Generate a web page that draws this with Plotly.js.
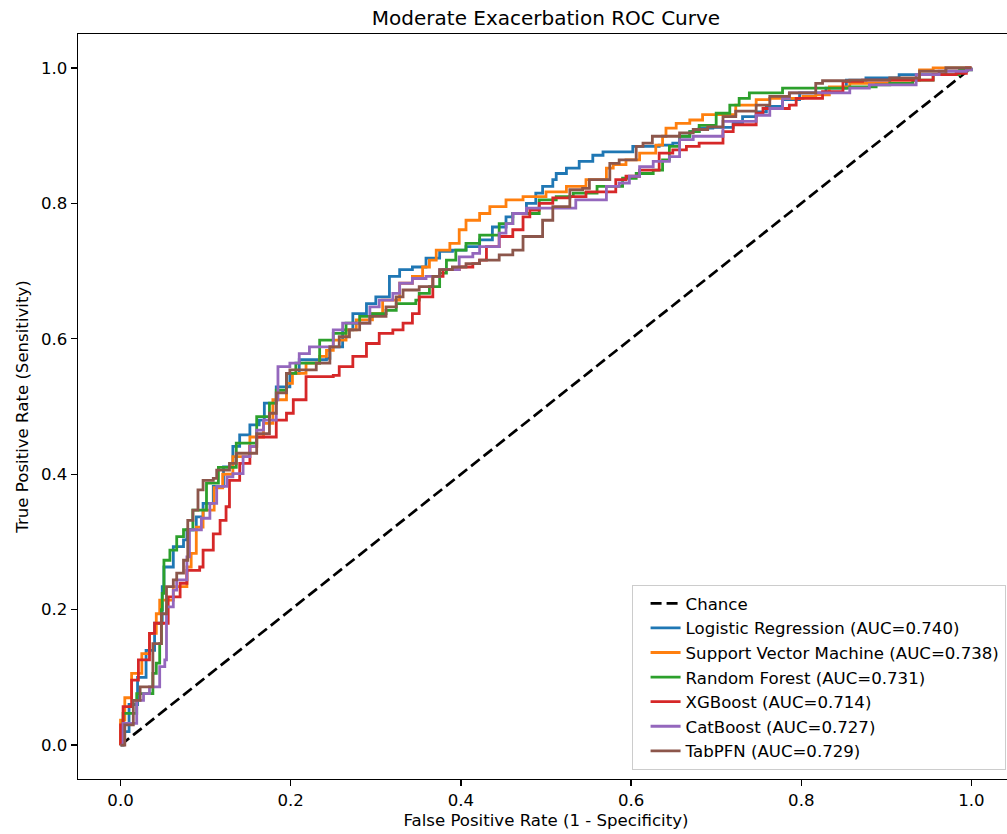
<!DOCTYPE html>
<html>
<head>
<meta charset="utf-8">
<script src="https://cdn.plot.ly/plotly-3.0.1.min.js"></script>
<style>
html, body { margin: 0; padding: 0; overflow: hidden; background: #fff; }
#chart { width: 1020px; height: 834px; }
</style>
</head>
<body>
<div id="chart"></div>
<script>
// Chance line
const chanceX = [0, 1];
const chanceY = [0, 1];

// Logistic Regression (AUC=0.740)
const lrFpr = [0,0,0.01,0.02,0.03,0.04,0.049,0.051,0.062,0.074,0.078,0.089,0.097,0.109,0.121,0.132,0.140,0.152,0.163,0.169,0.183,0.199,0.210,0.228,0.242,0.246,0.261,0.273,0.289,0.300,0.316,0.328,0.343,0.359,0.375,0.390,0.406,0.422,0.437,0.453,0.461,0.477,0.488,0.496,0.508,0.512,0.524,0.539,0.555,0.567,0.590,0.602,0.618,0.633,0.649,0.657,0.669,0.680,0.696,0.720,0.731,0.747,0.759,0.778,0.798,0.829,0.853,0.876,0.915,0.970,1];
const lrTpr = [0,0.02,0.06,0.10,0.14,0.18,0.234,0.263,0.293,0.303,0.318,0.337,0.357,0.382,0.411,0.441,0.458,0.473,0.48,0.505,0.529,0.549,0.569,0.569,0.571,0.588,0.613,0.637,0.652,0.662,0.692,0.702,0.706,0.719,0.729,0.731,0.736,0.746,0.765,0.780,0.785,0.800,0.815,0.825,0.835,0.844,0.852,0.862,0.871,0.876,0.876,0.884,0.884,0.886,0.889,0.899,0.906,0.911,0.912,0.918,0.928,0.935,0.943,0.953,0.963,0.970,0.982,0.985,0.990,1.0,1.0];

// Support Vector Machine (AUC=0.738)
const svmFpr = [0,0,0.005,0.013,0.025,0.034,0.042,0.046,0.062,0.078,0.083,0.089,0.097,0.110,0.120,0.132,0.152,0.168,0.179,0.195,0.202,0.218,0.234,0.242,0.250,0.265,0.277,0.296,0.308,0.328,0.343,0.355,0.363,0.371,0.387,0.398,0.406,0.422,0.434,0.453,0.473,0.500,0.524,0.547,0.571,0.579,0.594,0.610,0.629,0.637,0.641,0.653,0.669,0.684,0.723,0.747,0.763,0.802,0.817,0.833,0.857,0.904,0.939,0.955,1];
const svmTpr = [0,0.037,0.07,0.106,0.135,0.165,0.194,0.214,0.234,0.263,0.283,0.322,0.347,0.380,0.400,0.426,0.455,0.475,0.510,0.534,0.549,0.564,0.574,0.583,0.598,0.613,0.628,0.637,0.657,0.682,0.692,0.706,0.716,0.731,0.741,0.761,0.775,0.785,0.795,0.805,0.810,0.817,0.825,0.835,0.852,0.857,0.864,0.874,0.886,0.899,0.911,0.918,0.923,0.931,0.945,0.953,0.955,0.958,0.960,0.972,0.977,0.982,0.997,1.0,1.0];

// Random Forest (AUC=0.731)
const rfFpr = [0,0.003,0.019,0.038,0.042,0.046,0.048,0.049,0.051,0.058,0.066,0.074,0.085,0.101,0.115,0.136,0.160,0.175,0.183,0.195,0.206,0.234,0.250,0.265,0.281,0.296,0.312,0.324,0.347,0.351,0.363,0.375,0.383,0.394,0.406,0.422,0.445,0.461,0.492,0.512,0.532,0.560,0.590,0.606,0.626,0.637,0.645,0.657,0.669,0.680,0.700,0.716,0.727,0.739,0.778,0.857,0.888,0.904,0.931,0.955,0.986,1];
const rfTpr = [0,0.047,0.076,0.106,0.121,0.150,0.200,0.224,0.273,0.288,0.308,0.318,0.347,0.387,0.410,0.446,0.485,0.505,0.524,0.549,0.564,0.598,0.608,0.623,0.633,0.637,0.642,0.652,0.657,0.667,0.677,0.697,0.716,0.731,0.741,0.753,0.770,0.785,0.805,0.810,0.815,0.825,0.837,0.844,0.849,0.864,0.884,0.899,0.906,0.915,0.933,0.945,0.955,0.963,0.970,0.972,0.975,0.977,0.982,0.990,0.997,1.0];

// XGBoost (AUC=0.714)
const xgbFpr = [0,0,0.003,0.013,0.021,0.034,0.040,0.056,0.070,0.078,0.093,0.097,0.109,0.117,0.124,0.128,0.140,0.152,0.160,0.183,0.195,0.203,0.218,0.250,0.257,0.273,0.289,0.304,0.320,0.332,0.343,0.351,0.367,0.379,0.398,0.414,0.422,0.430,0.445,0.461,0.473,0.481,0.492,0.508,0.528,0.547,0.582,0.594,0.610,0.633,0.649,0.665,0.680,0.708,0.720,0.747,0.755,0.786,0.794,0.825,0.849,0.872,0.955,0.982,0.994,1];
const xgbTpr = [0,0.03,0.057,0.096,0.126,0.165,0.180,0.219,0.239,0.258,0.263,0.288,0.312,0.332,0.352,0.391,0.416,0.441,0.455,0.480,0.490,0.510,0.544,0.546,0.559,0.574,0.593,0.608,0.613,0.623,0.637,0.662,0.692,0.702,0.706,0.711,0.716,0.736,0.751,0.761,0.780,0.790,0.800,0.808,0.810,0.817,0.835,0.840,0.849,0.874,0.879,0.884,0.889,0.906,0.916,0.933,0.940,0.945,0.955,0.965,0.980,0.982,0.990,0.992,1.0,1.0];

// CatBoost (AUC=0.727)
const cbFpr = [0,0.003,0.019,0.027,0.034,0.046,0.052,0.054,0.062,0.066,0.078,0.081,0.095,0.105,0.113,0.125,0.132,0.144,0.152,0.160,0.168,0.183,0.185,0.199,0.210,0.222,0.250,0.261,0.293,0.304,0.320,0.328,0.343,0.359,0.375,0.398,0.414,0.422,0.445,0.453,0.461,0.477,0.528,0.535,0.571,0.586,0.598,0.610,0.626,0.645,0.657,0.673,0.708,0.747,0.763,0.778,0.786,0.825,0.857,0.880,0.935,0.962,0.994,1];
const cbTpr = [0,0.032,0.066,0.076,0.086,0.116,0.126,0.204,0.229,0.244,0.278,0.318,0.335,0.357,0.382,0.396,0.401,0.426,0.441,0.465,0.480,0.510,0.559,0.564,0.578,0.588,0.613,0.623,0.647,0.657,0.667,0.682,0.689,0.692,0.702,0.721,0.726,0.736,0.756,0.770,0.785,0.793,0.793,0.805,0.825,0.830,0.840,0.854,0.862,0.869,0.894,0.899,0.921,0.930,0.940,0.955,0.963,0.963,0.970,0.975,0.990,0.995,0.997,1.0];

// TabPFN (AUC=0.729)
const tabFpr = [0,0.005,0.015,0.023,0.038,0.048,0.054,0.062,0.066,0.074,0.079,0.079,0.085,0.091,0.097,0.109,0.113,0.128,0.136,0.160,0.175,0.183,0.195,0.199,0.218,0.230,0.246,0.257,0.269,0.281,0.293,0.312,0.324,0.332,0.351,0.367,0.375,0.390,0.406,0.422,0.445,0.461,0.473,0.496,0.508,0.528,0.543,0.551,0.575,0.586,0.606,0.614,0.625,0.657,0.673,0.690,0.708,0.723,0.747,0.763,0.786,0.817,0.825,0.857,0.904,0.939,0.970,1];
const tabTpr = [0,0.030,0.066,0.086,0.150,0.194,0.234,0.244,0.254,0.273,0.313,0.332,0.347,0.377,0.391,0.394,0.406,0.416,0.431,0.460,0.490,0.520,0.549,0.554,0.554,0.564,0.588,0.603,0.613,0.623,0.633,0.647,0.662,0.672,0.677,0.692,0.702,0.706,0.711,0.716,0.724,0.731,0.751,0.775,0.795,0.820,0.822,0.835,0.859,0.864,0.884,0.889,0.899,0.904,0.909,0.913,0.928,0.936,0.945,0.958,0.963,0.977,0.981,0.982,0.985,0.995,1.0,1.0];

const tickVals = [0, 0.2, 0.4, 0.6, 0.8, 1.0];
const tickText = ["0.0", "0.2", "0.4", "0.6", "0.8", "1.0"];

const models = [
  { name: "Logistic Regression (AUC=0.740)", x: lrFpr, y: lrTpr, color: "#1f77b4" },
  { name: "Support Vector Machine (AUC=0.738)", x: svmFpr, y: svmTpr, color: "#ff7f0e" },
  { name: "Random Forest (AUC=0.731)", x: rfFpr, y: rfTpr, color: "#2ca02c" },
  { name: "XGBoost (AUC=0.714)", x: xgbFpr, y: xgbTpr, color: "#d62728" },
  { name: "CatBoost (AUC=0.727)", x: cbFpr, y: cbTpr, color: "#9467bd" },
  { name: "TabPFN (AUC=0.729)", x: tabFpr, y: tabTpr, color: "#8c564b" }
];

const traces = [{
  type: "scatter", mode: "lines", name: "Chance",
  x: chanceX, y: chanceY,
  line: { color: "#000000", width: 2.7, dash: "11px,5px" }
}];
models.forEach(m => traces.push({
  type: "scatter", mode: "lines", name: m.name,
  x: m.x, y: m.y,
  line: { color: m.color, width: 2.8, shape: "hv" }
}));

const font = { family: "DejaVu Sans, sans-serif", size: 16.6, color: "#000" };

const axisBase = {
  range: [-0.05, 1.05],
  tickvals: tickVals, ticktext: tickText,
  ticks: "outside", ticklen: 6, tickwidth: 1.3, tickcolor: "#000",
  showline: true, linecolor: "#000", linewidth: 1.3, mirror: true,
  showgrid: false, zeroline: false,
  tickfont: font
};

const layout = {
  width: 1020, height: 834,
  margin: { l: 78, r: 6, t: 34, b: 55 },
  paper_bgcolor: "#fff", plot_bgcolor: "#fff",
  font: font,
  title: { text: "Moderate Exacerbation ROC Curve", font: { family: "DejaVu Sans, sans-serif", size: 20, color: "#000" }, x: 0.5, xanchor: "center", xref: "paper", y: 0.979, yanchor: "middle" },
  xaxis: Object.assign({}, axisBase, { title: { text: "False Positive Rate (1 - Specificity)", font: font, standoff: 5 } }),
  yaxis: Object.assign({}, axisBase, { title: { text: "True Positive Rate (Sensitivity)", font: font, standoff: 8 } }),
  legend: {
    x: 0.991, y: 0.012, xanchor: "right", yanchor: "bottom",
    bgcolor: "rgba(255,255,255,0.8)", bordercolor: "#cccccc", borderwidth: 1,
    font: font, indentation: 13,
    tracegroupgap: 0
  },
  showlegend: true
};

Plotly.newPlot("chart", traces, layout, { displayModeBar: false, staticPlot: true });
</script>
</body>
</html>
